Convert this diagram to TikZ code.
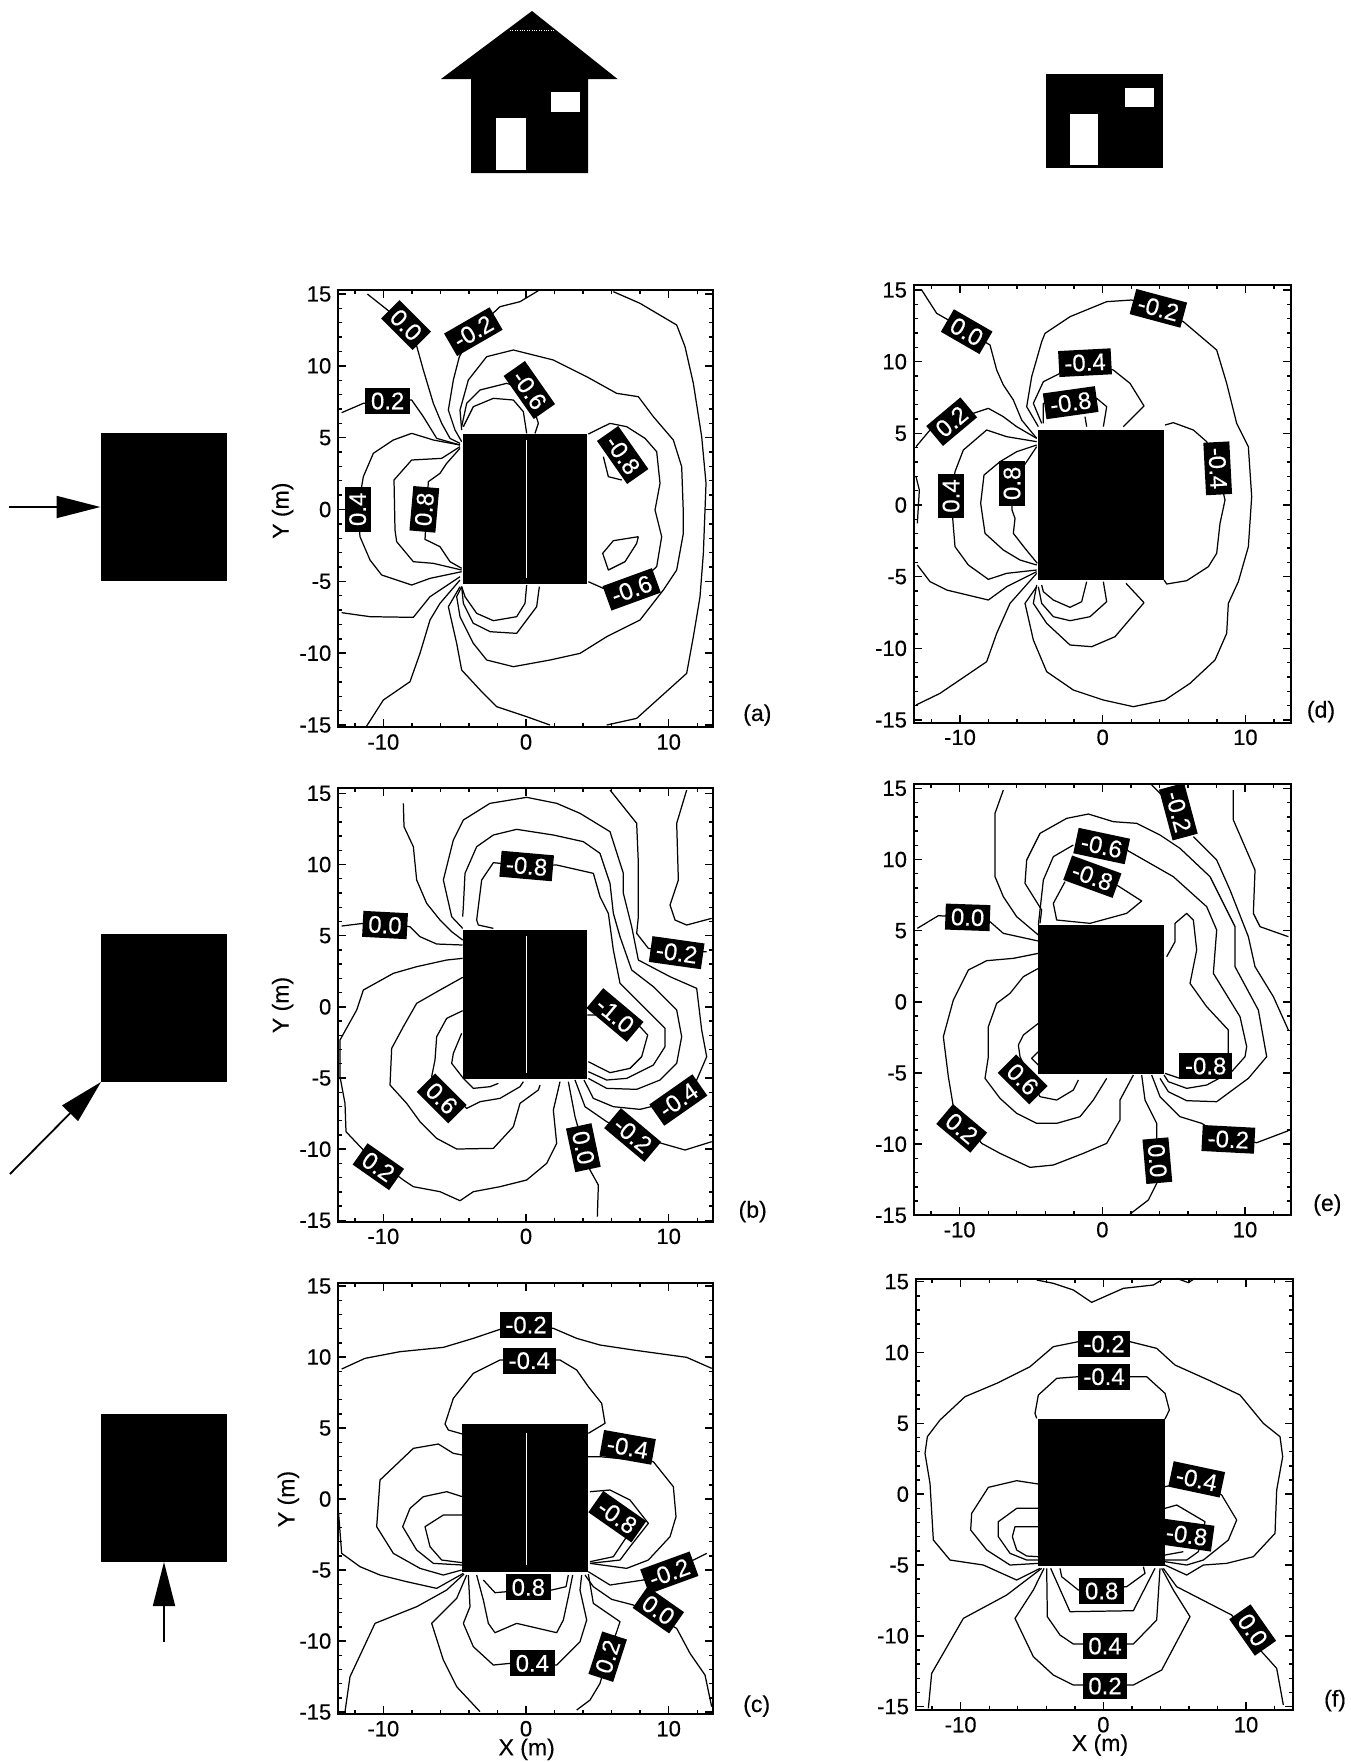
\documentclass[tikz,border=0pt]{standalone}
\usepackage{fontspec}
\setmainfont{Liberation Sans}
\newfontfamily\scanfont[FakeBold=0.35]{Liberation Sans}
\usetikzlibrary{arrows.meta}

\newcommand{\plotframe}[8]{
    \draw[frame line] (#1,#3) rectangle (#2,#4);
    \foreach \tx in {-12,-8,-6,-4,-2,2,4,6,8,12} {
        \draw[tick line] (#5+\tx*42.8,#3) -- ++(0,12);
        \draw[tick line] (#5+\tx*42.8,#4) -- ++(0,-12);
    }
    \foreach \tx in {-10,0,10} {
        \draw[tick line] (#5+\tx*42.8,#3) -- ++(0,24);
        \draw[tick line] (#5+\tx*42.8,#4) -- ++(0,-24);
    }
    \foreach \ty in {-14,...,14} {
        \draw[tick line] (#1,#6+15*#7/5-\ty*#7/5) -- ++(12,0);
        \draw[tick line] (#2,#6+15*#7/5-\ty*#7/5) -- ++(-12,0);
    }
    \foreach \ty in {-15,-10,...,15} {
        \draw[tick line] (#1,#6+15*#7/5-\ty*#7/5) -- ++(24,0);
        \draw[tick line] (#2,#6+15*#7/5-\ty*#7/5) -- ++(-24,0);
        \node[tick label,anchor=east] (#8y\ty) at (#1-20,#6+15*#7/5-\ty*#7/5) {\ty};
    }
    \foreach \tx in {-10,0,10} {
        \node[tick label] (#8x\tx) at (#5+\tx*42.8,#4+44) {\tx};
    }
}

\begin{document}
\begin{tikzpicture}[x=0.5pt,y=-0.5pt,
    contour line/.style={line width=0.62pt,line join=round},
    frame line/.style={line width=1pt},
    tick line/.style={line width=0.7pt},
    tick label/.style={font=\scanfont\fontsize{11}{12}\selectfont,inner sep=0pt},
    axis label/.style={font=\scanfont\fontsize{11.5}{12}\selectfont,inner sep=0pt},
    value label/.style={fill=black,text=white,font=\scanfont\fontsize{12}{13}\selectfont,inner xsep=2.8pt,inner ysep=0pt,minimum height=13pt},
    wind block/.style={fill=black,inner sep=0pt,outer sep=0pt,minimum width=63pt,minimum height=74pt},
    wind arrow/.style={line width=0.9pt,-{Triangle[length=22pt,width=11pt]}},
    bldg/.style={x=0.16667pt,y=-0.16667pt}]

    \useasboundingbox (0,0) rectangle (1350,1762);

    % houses on top
    \fill (532,11) -- (617.5,79) -- (588,79) -- (588,173) -- (471,173) -- (471,79) -- (441,79) -- cycle;
    \fill[white] (496,118) rectangle (526,170);
    \fill[white] (551,92) rectangle (580,112);
    \draw[white,line width=0.2pt,densely dotted] (510,30) -- (555,30);
    \fill (1046,74) rectangle (1163,168);
    \fill[white] (1070,114) rectangle (1098,165);
    \fill[white] (1125,88) rectangle (1154,107);

    % wind directions
    \node[wind block] (winda) at (163.5,507) {};
    \node[wind block] (windb) at (164,1008) {};
    \node[wind block] (windc) at (164,1488) {};
    \coordinate (starta) at (9,507);
    \coordinate (startb) at (10,1174);
    \coordinate (startc) at (164,1642);
    \draw[wind arrow] (starta) -- (winda.west);
    \draw[wind arrow] (startb) -- (windb.south west);
    \draw[wind arrow] (startc) -- (windc.south);

    % panel a
    \begin{scope}[shift={(260,270)},bldg]
    \fill (608,492) rectangle (982,942);
    \draw[white,line width=0.5pt] (798,510) -- (798,925);
    \plotframe{235}{1358}{60}{1372}{798}{72}{215.5}{a}
    \draw[contour line] plot coordinates {(322,72)(385,122)(470,228)(490,300)(520,400)(545,460)(570,505)(600,520)};
    \draw[contour line] plot coordinates {(835,62)(780,95)(720,110)(640,185)(598,260)(580,330)(565,420)(585,480)(605,515)};
    \draw[contour line] plot coordinates {(1060,65)(1140,100)(1250,165)(1275,230)(1300,340)(1325,500)(1338,640)(1330,850)(1320,980)(1300,1100)(1280,1210)(1130,1345)(1040,1365)};
    \draw[contour line] plot coordinates {(870,1365)(800,1340)(710,1310)(665,1265)(605,1200)(590,1120)(565,1010)(600,950)};
    \draw[contour line] plot coordinates {(320,1368)(370,1290)(450,1235)(480,1150)(510,1050)(540,1000)(600,930)};
    \draw[contour line] plot coordinates {(245,428)(310,400)(455,390)(490,440)(530,505)(600,525)};
    \draw[contour line] plot coordinates {(600,525)(520,510)(455,490)(400,510)(340,550)(310,620)(293,718)(300,800)(330,870)(365,915)(455,945)(510,925)(605,905)};
    \draw[contour line] plot coordinates {(245,1028)(330,1040)(460,1042)(510,980)(600,920)};
    \draw[contour line] plot coordinates {(600,530)(545,565)(455,570)(402,630)(405,780)(410,815)(460,875)(520,880)(605,900)};
    \draw[contour line] plot coordinates {(600,535)(560,580)(540,610)(505,635)(495,808)(540,830)(570,875)(605,895)};
    \draw[contour line] plot coordinates {(605,480)(600,420)(625,330)(680,260)(760,240)(880,270)(980,320)(1070,370)(1135,380)(1180,440)(1240,510)(1265,590)(1270,730)(1270,790)(1250,900)(1210,960)(1140,1050)(1040,1100)(960,1150)(870,1170)(760,1190)(680,1170)(640,1120)(600,1040)(590,980)(605,950)};
    \draw[contour line] plot coordinates {(605,470)(620,400)(660,360)(740,340)(805,360)(835,460)(825,490)};
    \draw[contour line] plot coordinates {(838,950)(830,1010)(800,1050)(770,1090)(690,1085)(640,1060)(610,1000)(605,950)};
    \draw[contour line] plot coordinates {(610,470)(640,410)(700,385)(760,390)(790,425)(800,490)};
    \draw[contour line] plot coordinates {(800,945)(795,1000)(770,1040)(700,1052)(650,1030)(615,980)(605,950)};
    \draw[contour line] plot coordinates {(985,492)(1050,460)(1100,470)(1155,505)(1190,545)(1200,640)(1185,720)(1205,800)(1190,890)(1115,958)(1030,955)(985,935)};
    \draw[contour line] plot coordinates {(1030,560)(1045,620)(1085,630)};
    \draw[contour line] plot coordinates {(1135,800)(1060,812)(1028,850)(1045,900)(1095,875)(1130,820)(1135,800)};
    \node[value label,rotate=-45] (a00) at (438,165) {0.0};
    \node[value label,rotate=30] (a02n) at (640,185) {-0.2};
    \node[value label] (a02) at (383,393) {0.2};
    \node[value label,rotate=-55] (a06n) at (808,360) {-0.6};
    \node[value label,rotate=90] (a04) at (293,718) {0.4};
    \node[value label,rotate=85] (a08) at (493,718) {0.8};
    \node[value label,rotate=-55] (a08n) at (1088,555) {-0.8};
    \node[value label,rotate=20] (a06m) at (1115,958) {-0.6};
    \node[axis label,rotate=90] (aylab) at (68,722) {Y (m)};
    \node[axis label] (atag) at (1492,1335) {(a)};
    \end{scope}

    % panel d
    \begin{scope}[shift={(840,270)},bldg]
    \fill (595,480) rectangle (972,930);
    \plotframe{222}{1352}{45}{1358}{788}{60}{215}{d}
    \draw[contour line] plot coordinates {(245,60)(290,130)(325,150)(450,225)(470,300)(490,345)(520,390)(545,450)(590,505)};
    \draw[contour line] plot coordinates {(228,530)(270,480)(400,430)(445,415)(490,440)(530,470)(590,505)};
    \draw[contour line] plot coordinates {(590,515)(500,500)(440,480)(370,540)(345,605)(333,678)(340,770)(345,830)(385,885)(445,928)(500,910)(590,900)};
    \draw[contour line] plot coordinates {(590,525)(530,545)(480,575)(432,615)(422,700)(435,790)(490,840)(540,870)(590,885)};
    \draw[contour line] plot coordinates {(590,530)(570,560)(516,640)(516,720)(525,745)(520,790)(555,835)(592,880)};
    \draw[contour line] plot coordinates {(595,470)(560,410)(575,320)(605,215)(615,190)(690,140)(800,95)(875,90)(955,115)(1030,155)(1130,240)(1160,340)(1190,460)(1225,530)(1235,680)(1225,830)(1195,935)(1165,1000)(1160,1090)(1125,1170)(1050,1240)(975,1290)(880,1310)(790,1290)(700,1260)(620,1205)(580,1110)(555,1000)(590,950)};
    \draw[contour line] plot coordinates {(605,460)(580,400)(610,335)(660,310)(735,278)(820,300)(870,340)(912,408)(850,470)};
    \draw[contour line] plot coordinates {(858,940)(912,998)(825,1100)(755,1130)(690,1125)(620,1060)(580,1000)(590,945)};
    \draw[contour line] plot coordinates {(610,460)(610,400)(692,398)(770,385)(800,410)(790,470)};
    \draw[contour line] plot coordinates {(790,935)(800,995)(750,1040)(690,1052)(640,1040)(605,1000)(595,950)};
    \draw[contour line] plot coordinates {(735,440)(740,470)};
    \draw[contour line] plot coordinates {(740,935)(725,995)(690,1012)(640,990)(610,965)(605,945)};
    \draw[contour line] plot coordinates {(975,465)(1000,458)(1060,480)(1100,515)(1133,595)(1155,690)(1140,760)(1130,850)(1105,890)(1040,932)(980,942)(972,930)};
    \draw[contour line] plot coordinates {(228,1305)(300,1270)(440,1175)(470,1090)(510,1000)(590,910)};
    \draw[contour line] plot coordinates {(232,885)(270,935)(320,960)(445,990)(500,950)(590,905)};
    \draw[contour line] plot coordinates {(228,620)(238,660)(232,760)};
    \node[value label,rotate=-30] (d00) at (380,185) {0.0};
    \node[value label,rotate=40] (d02) at (335,455) {0.2};
    \node[value label,rotate=90] (d04) at (333,678) {0.4};
    \node[value label,rotate=90] (d08) at (516,640) {0.8};
    \node[value label,rotate=-15] (d02n) at (955,115) {-0.2};
    \node[value label,rotate=3] (d04n) at (735,278) {-0.4};
    \node[value label,rotate=8] (d08n) at (692,398) {-0.8};
    \node[value label,rotate=-87] (d04m) at (1133,595) {-0.4};
    \node[axis label] (dtag) at (1443,1325) {(d)};
    \end{scope}

    % panel b
    \begin{scope}[shift={(260,770)},bldg]
    \fill (608,480) rectangle (982,928);
    \draw[white,line width=0.5pt] (798,498) -- (798,910);
    \plotframe{235}{1358}{55}{1355}{798}{70}{213.5}{b}
    \draw[contour line] plot coordinates {(245,468)(310,460)(450,470)(480,500)(530,522)(608,525)};
    \draw[contour line] plot coordinates {(430,100)(432,170)(460,230)(470,330)(500,400)(540,450)(575,485)(608,510)};
    \draw[contour line] plot coordinates {(608,475)(575,440)(550,330)(580,210)(610,150)(690,100)(800,82)(890,100)(960,130)(1050,185)(1090,310)(1090,370)(1115,470)(1135,570)(1230,620)(1310,655)(1325,780)(1340,860)(1310,930)(1255,990)(1140,1018)(1060,1010)(1000,985)(972,930)};
    \draw[contour line] plot coordinates {(608,440)(610,410)(615,310)(650,230)(700,195)(770,178)(880,195)(970,215)(1020,250)(1050,340)(1060,430)(1080,500)(1115,600)(1180,650)(1250,720)(1265,800)(1250,880)(1200,930)(1130,958)(1040,955)(985,925)};
    \draw[contour line] plot coordinates {(650,450)(665,330)(700,278)(800,288)(890,285)(1000,310)(1020,380)(1045,430)(1060,540)(1080,640)(1130,690)(1215,775)(1215,830)(1180,885)(1100,925)(1040,930)(985,905)};
    \draw[contour line] plot coordinates {(650,450)(655,465)(700,475)};
    \draw[contour line] plot coordinates {(982,735)(1065,735)(1140,770)(1163,795)(1145,860)(1110,895)(1050,908)(985,875)};
    \draw[contour line] plot coordinates {(1050,60)(1130,160)(1135,280)(1135,440)(1130,490)(1165,535)(1250,548)(1340,545)};
    \draw[contour line] plot coordinates {(1280,60)(1250,160)(1255,330)(1230,405)(1245,450)(1280,465)(1355,445)};
    \draw[contour line] plot coordinates {(945,930)(975,1010)(1040,1055)(1118,1095)(1205,1120)(1275,1140)(1355,1115)};
    \draw[contour line] plot coordinates {(608,565)(560,570)(470,590)(400,610)(310,660)(290,720)(240,810)(240,920)(255,1000)(258,1085)(310,1140)(430,1230)(460,1250)(540,1265)(600,1292)(640,1265)(720,1250)(800,1230)(860,1180)(890,1120)(880,1020)(900,935)};
    \draw[contour line] plot coordinates {(608,622)(540,660)(470,700)(430,770)(395,835)(390,945)(440,1000)(480,1055)(530,1105)(590,1137)(700,1135)(760,1070)(780,1000)(835,960)(840,945)};
    \draw[contour line] plot coordinates {(608,722)(560,745)(530,800)(525,870)(515,920)(620,1015)(660,995)(720,985)(780,950)(790,935)};
    \draw[contour line] plot coordinates {(605,790)(580,850)(575,880)(610,925)(640,955)(690,950)(715,940)};
    \draw[contour line] plot coordinates {(925,935)(945,1040)(990,1200)(1015,1245)(1012,1340)};
    \node[value label,rotate=-3] (b00) at (375,465) {0.0};
    \node[value label,rotate=-5] (b08n) at (800,288) {-0.8};
    \node[value label,rotate=-8] (b02n) at (1250,548) {-0.2};
    \node[value label,rotate=-40] (b10n) at (1065,735) {-1.0};
    \node[value label,rotate=35] (b04n) at (1255,990) {-0.4};
    \node[value label,rotate=-40] (b02m) at (1118,1095) {-0.2};
    \node[value label,rotate=-78] (b00m) at (970,1133) {0.0};
    \node[value label,rotate=-45] (b06) at (545,985) {0.6};
    \node[value label,rotate=-35] (b02) at (355,1190) {0.2};
    \node[axis label,rotate=90] (bylab) at (68,705) {Y (m)};
    \node[axis label] (btag) at (1478,1325) {(b)};
    \end{scope}

    % panel e
    \begin{scope}[shift={(840,770)},bldg]
    \fill (595,465) rectangle (973,913);
    \plotframe{222}{1352}{42}{1335}{787}{55}{213.5}{e}
    \draw[contour line] plot coordinates {(232,475)(295,437)(383,442)(450,455)(490,490)(595,513)};
    \draw[contour line] plot coordinates {(490,60)(465,130)(465,320)(490,380)(530,440)(595,495)};
    \draw[contour line] plot coordinates {(600,460)(605,420)(555,340)(560,270)(600,190)(680,145)(745,132)(820,155)(890,160)(960,195)(1020,235)(1110,320)(1185,470)(1185,590)(1255,720)(1280,860)(1225,925)(1130,995)(1040,992)(985,965)(960,925)};
    \draw[contour line] plot coordinates {(1060,200)(1130,270)(1170,360)(1225,500)(1245,590)(1300,680)(1345,780)};
    \draw[contour line] plot coordinates {(860,240)(1000,320)(1100,410)(1130,480)(1120,610)(1200,740)(1220,830)(1215,860)(1175,905)(1100,945)(1040,955)(985,935)(972,915)};
    \draw[contour line] plot coordinates {(980,560)(1005,515)(1005,460)(1040,430)(1060,450)(1070,540)(1050,640)(1100,710)(1165,780)(1165,850)};
    \draw[contour line] plot coordinates {(975,910)(1020,925)};
    \draw[contour line] plot coordinates {(935,915)(960,980)(1020,1040)(1085,1060)(1165,1108)(1250,1118)(1345,1082)};
    \draw[contour line] plot coordinates {(935,45)(1015,125)};
    \draw[contour line] plot coordinates {(1180,60)(1180,150)(1245,300)(1240,430)(1260,470)(1345,500)};
    \draw[contour line] plot coordinates {(675,335)(640,400)(650,450)(750,460)(860,430)(905,393)(830,345)};
    \draw[contour line] plot coordinates {(595,465)(610,330)(640,260)(700,225)};
    \draw[contour line] plot coordinates {(595,550)(520,565)(440,572)(385,600)(340,690)(310,800)(325,920)(340,1010)(425,1120)(480,1150)(570,1192)(640,1185)(730,1150)(800,1120)(840,1050)(840,990)(880,915)};
    \draw[contour line] plot coordinates {(595,595)(550,620)(510,670)(470,700)(445,770)(445,860)(435,925)(480,985)(530,1030)(590,1060)(650,1060)(720,1040)(760,990)(800,925)};
    \draw[contour line] plot coordinates {(595,760)(550,795)(535,825)(540,860)(600,980)(650,990)(700,960)(715,930)};
    \draw[contour line] plot coordinates {(595,845)(575,865)(600,890)(600,910)};
    \draw[contour line] plot coordinates {(905,915)(915,990)(950,1060)(950,1100)(950,1240)(925,1290)(870,1332)};
    \node[value label,rotate=-2] (e00) at (383,442) {0.0};
    \node[value label,rotate=-12] (e06n) at (785,228) {-0.6};
    \node[value label,rotate=-20] (e08n) at (757,320) {-0.8};
    \node[value label,rotate=-75] (e02n) at (1015,125) {-0.2};
    \node[value label] (e08m) at (1097,888) {-0.8};
    \node[value label,rotate=-3] (e02m) at (1165,1108) {-0.2};
    \node[value label,rotate=-85] (e00m) at (952,1172) {0.0};
    \node[value label,rotate=-45] (e06) at (548,928) {0.6};
    \node[value label,rotate=-40] (e02) at (365,1075) {0.2};
    \node[axis label] (etag) at (1462,1305) {(e)};
    \end{scope}

    % panel c
    \begin{scope}[shift={(260,1270)},bldg]
    \fill (607,463) rectangle (984,905);
    \draw[white,line width=0.5pt] (798,488) -- (798,885);
    \plotframe{235}{1360}{40}{1332}{798}{48}{213}{c}
    \draw[contour line] plot coordinates {(245,297)(315,265)(420,245)(550,232)(640,205)(720,178)(798,165)(880,175)(950,205)(1020,225)(1120,240)(1280,262)(1355,295)};
    \draw[contour line] plot coordinates {(985,490)(1035,460)(1025,400)(985,350)(950,300)(900,270)(808,272)(720,270)(640,310)(580,385)(555,462)(565,480)(607,492)};
    \draw[contour line] plot coordinates {(607,555)(580,550)(535,522)(460,535)(360,630)(350,770)(400,850)(480,895)(550,915)(605,900)};
    \draw[contour line] plot coordinates {(984,560)(1020,560)(1180,575)(1240,650)(1248,740)(1230,800)(1165,870)(1100,895)(990,880)};
    \draw[contour line] plot coordinates {(607,680)(560,665)(490,680)(450,715)(428,770)(470,840)(520,880)(607,885)};
    \draw[contour line] plot coordinates {(607,735)(550,735)(495,770)(510,830)(545,870)(607,878)};
    \draw[contour line] plot coordinates {(990,665)(1050,660)(1110,690)(1165,760)(1110,830)(1080,870)(990,880)};
    \draw[contour line] plot coordinates {(1100,800)(1060,860)(990,875)};
    \draw[contour line] plot coordinates {(235,720)(245,850)(300,890)(360,915)(440,935)(530,955)(610,910)};
    \draw[contour line] plot coordinates {(1340,850)(1300,870)(1150,930)(1050,945)(985,905)};
    \draw[contour line] plot coordinates {(255,1325)(270,1220)(345,1060)(470,1010)(560,960)(612,912)};
    \draw[contour line] plot coordinates {(975,915)(1000,950)(1055,988)(1120,1005)(1250,1075)(1290,1150)(1335,1215)(1355,1310)};
    \draw[contour line] plot coordinates {(950,1320)(990,1290)(1020,1240)(1043,1160)(1070,1085)(1080,1055)(1000,1000)(985,912)};
    \draw[contour line] plot coordinates {(620,915)(590,985)(515,1060)(550,1170)(590,1250)(660,1325)};
    \draw[contour line] plot coordinates {(625,915)(630,1010)(610,1060)(640,1130)(700,1185)(750,1180)(890,1185)(960,1115)(980,1050)(960,960)(965,915)};
    \draw[contour line] plot coordinates {(650,915)(670,990)(685,1060)(705,1088)(770,1060)(890,1088)(910,1050)(925,980)(938,915)};
    \draw[contour line] plot coordinates {(670,930)(705,968)(740,965)(875,960)(918,950)(925,915)};
    \node[value label] (c02n) at (798,165) {-0.2};
    \node[value label] (c04n) at (808,272) {-0.4};
    \node[value label,rotate=-10] (c04m) at (1103,532) {-0.4};
    \node[value label,rotate=-35] (c08n) at (1072,740) {-0.8};
    \node[value label,rotate=20] (c02m) at (1228,908) {-0.2};
    \node[value label,rotate=-35] (c00) at (1195,1020) {0.0};
    \node[value label] (c08) at (805,952) {0.8};
    \node[value label] (c04) at (817,1180) {0.4};
    \node[value label,rotate=72] (c02) at (1043,1160) {0.2};
    \node[axis label,rotate=90] (cylab) at (85,687) {Y (m)};
    \node[axis label] (cxlab) at (800,1438) {X (m)};
    \node[axis label] (ctag) at (1490,1308) {(c)};
    \end{scope}

    % panel f
    \begin{scope}[shift={(840,1270)},bldg]
    \fill (595,448) rectangle (975,888);
    \plotframe{228}{1358}{28}{1320}{790}{35}{212.5}{f}
    \draw[contour line] plot coordinates {(590,30)(640,40)(700,60)(755,97)(850,55)(940,45)(965,30)};
    \draw[contour line] plot coordinates {(1010,25)(1045,38)(1065,25)};
    \draw[contour line] plot coordinates {(600,895)(530,930)(430,885)(330,870)(280,810)(270,640)(255,550)(262,500)(300,450)(375,380)(470,340)(570,290)(640,230)(715,215)(870,215)(950,235)(1005,285)(1105,330)(1200,375)(1270,460)(1320,500)(1328,560)(1310,660)(1305,790)(1240,860)(1160,880)(1090,885)(1040,915)(975,885)};
    \draw[contour line] plot coordinates {(590,445)(585,430)(595,375)(650,325)(715,320)(870,320)(920,320)(975,370)(988,420)(975,447)};
    \draw[contour line] plot coordinates {(595,642)(530,632)(445,652)(395,730)(392,780)(440,840)(510,885)(595,880)};
    \draw[contour line] plot coordinates {(975,650)(1070,628)(1145,675)(1190,750)(1165,810)(1090,870)(1040,885)(975,875)};
    \draw[contour line] plot coordinates {(595,715)(530,715)(475,755)(475,800)(510,850)(560,870)(595,870)};
    \draw[contour line] plot coordinates {(595,770)(525,770)(517,800)(530,840)(560,858)(595,860)};
    \draw[contour line] plot coordinates {(975,715)(1010,705)(1095,755)(1075,845)(1040,870)(975,870)};
    \draw[contour line] plot coordinates {(1030,845)(975,855)};
    \draw[contour line] plot coordinates {(265,1315)(275,1210)(370,1045)(500,975)(605,895)};
    \draw[contour line] plot coordinates {(970,895)(1010,950)(1175,1035)(1265,1145)(1310,1195)(1330,1305)};
    \draw[contour line] plot coordinates {(612,895)(580,960)(525,1045)(580,1160)(640,1215)(700,1245)(880,1245)(965,1200)(1050,1040)(1000,960)(965,895)};
    \draw[contour line] plot coordinates {(620,895)(622,1040)(660,1095)(700,1122)(880,1122)(950,1050)(960,895)};
    \draw[contour line] plot coordinates {(632,895)(690,1025)(880,1022)(945,895)};
    \draw[contour line] plot coordinates {(660,895)(665,920)(715,960)(860,950)(915,910)(910,890)};
    \node[value label] (f02n) at (792,222) {-0.2};
    \node[value label] (f04n) at (792,320) {-0.4};
    \node[value label,rotate=-12] (f04m) at (1070,628) {-0.4};
    \node[value label,rotate=-8] (f08n) at (1040,795) {-0.8};
    \node[value label] (f08) at (785,963) {0.8};
    \node[value label] (f04) at (795,1128) {0.4};
    \node[value label] (f02) at (795,1248) {0.2};
    \node[value label,rotate=-55] (f00) at (1238,1080) {0.0};
    \node[axis label] (fxlab) at (780,1425) {X (m)};
    \node[axis label] (ftag) at (1485,1292) {(f)};
    \end{scope}

\end{tikzpicture}
\end{document}
